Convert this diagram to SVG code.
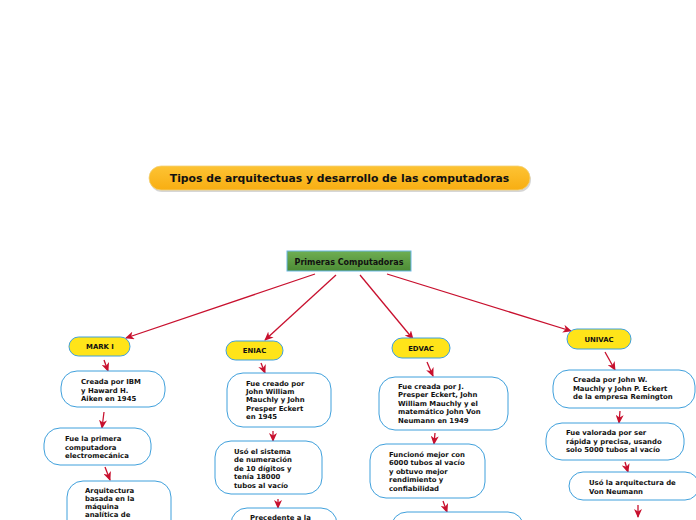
<svg xmlns="http://www.w3.org/2000/svg" width="696" height="520" viewBox="0 0 696 520">
<defs>
<linearGradient id="gTitle" x1="0" y1="0" x2="0" y2="1"><stop offset="0" stop-color="#FDC334"/><stop offset="1" stop-color="#F8AE12"/></linearGradient>
<linearGradient id="gGreen" x1="0" y1="0" x2="0" y2="1"><stop offset="0" stop-color="#6FAE52"/><stop offset="1" stop-color="#4C8B35"/></linearGradient>
<marker id="ah" markerUnits="userSpaceOnUse" markerWidth="9" markerHeight="8" refX="8" refY="4" orient="auto"><path d="M0,0 L9,4 L0,8 L2.5,4 z" fill="#C8102E"/></marker>
<style>
.t{font-family:"DejaVu Sans","Verdana",sans-serif;font-weight:bold;fill:#111}
.s{font-size:6.9px}
.c{stroke:#C8102E;stroke-width:1.3;fill:none;marker-end:url(#ah)}
.y{fill:#FFE419;stroke:#3FA0DC;stroke-width:1}
.w{fill:#fff;stroke:#3FA0DC;stroke-width:1}
</style>
</defs>
<rect width="696" height="520" fill="#fff"/>
<g id="title">
<rect x="150" y="168" width="381" height="24" rx="12" fill="#bbb" opacity="0.6"/>
<rect x="149" y="166" width="381" height="24" rx="12" fill="url(#gTitle)" stroke="#F3D27A" stroke-width="0.8"/>
<text class="t" x="339.5" y="182" text-anchor="middle" font-size="10.8">Tipos de arquitectuas y desarrollo de las computadoras</text>
</g>
<g id="primeras">
<rect x="287" y="251" width="124" height="20" fill="url(#gGreen)" stroke="#6BB8E6" stroke-width="1"/>
<text class="t" x="349" y="265" text-anchor="middle" font-size="8">Primeras Computadoras</text>
</g>
<g id="connectors">
<line class="c" x1="315" y1="274" x2="126" y2="338"/>
<line class="c" x1="336" y1="275" x2="265" y2="340"/>
<line class="c" x1="360" y1="275" x2="413" y2="339"/>
<line class="c" x1="387" y1="274" x2="571" y2="331"/>
<line class="c" x1="104" y1="360" x2="108" y2="371"/>
<line class="c" x1="104" y1="412" x2="102" y2="428"/>
<line class="c" x1="105" y1="467" x2="110" y2="480"/>
<line class="c" x1="261" y1="363" x2="265" y2="373"/>
<line class="c" x1="273" y1="431" x2="273" y2="441"/>
<line class="c" x1="278" y1="499" x2="278" y2="508"/>
<line class="c" x1="427" y1="362" x2="433" y2="376"/>
<line class="c" x1="435" y1="433" x2="434" y2="444"/>
<line class="c" x1="443" y1="501" x2="447" y2="512"/>
<line class="c" x1="605" y1="352" x2="615" y2="370"/>
<line class="c" x1="620" y1="411" x2="619" y2="423"/>
<line class="c" x1="625" y1="462" x2="628" y2="472"/>
<line class="c" x1="638" y1="505" x2="638" y2="517"/>
</g>
<g id="mark1">
<rect class="y" x="69" y="337" width="61" height="19" rx="9.5"/>
<text class="t s" x="100" y="349" text-anchor="middle">MARK I</text>
</g>
<g id="mark1-a">
<rect class="w" x="61" y="371" width="104" height="36" rx="16"/>
<text class="t s"><tspan x="81" y="384">Creada por IBM</tspan><tspan x="81" y="392.5">y Haward H.</tspan><tspan x="81" y="401">Aiken en 1945</tspan></text>
</g>
<g id="mark1-b">
<rect class="w" x="44" y="428" width="107" height="37" rx="16"/>
<text class="t s"><tspan x="65" y="441">Fue la primera</tspan><tspan x="65" y="449.5">computadora</tspan><tspan x="65" y="458">electromecánica</tspan></text>
</g>
<g id="mark1-c">
<rect class="w" x="67" y="481" width="104" height="60" rx="16"/>
<text class="t s"><tspan x="85" y="493">Arquitectura</tspan><tspan x="85" y="501">basada en la</tspan><tspan x="85" y="509">máquina</tspan><tspan x="85" y="517">analítica de</tspan></text>
</g>
<g id="eniac">
<rect class="y" x="226" y="341" width="57" height="19" rx="9.5"/>
<text class="t s" x="254.5" y="353" text-anchor="middle">ENIAC</text>
</g>
<g id="eniac-a">
<rect class="w" x="227" y="373" width="104" height="54" rx="16"/>
<text class="t s"><tspan x="246" y="385.5">Fue creado por</tspan><tspan x="246" y="394">John William</tspan><tspan x="246" y="402">Mauchly y John</tspan><tspan x="246" y="410.5">Presper Eckert</tspan><tspan x="246" y="419">en 1945</tspan></text>
</g>
<g id="eniac-b">
<rect class="w" x="215" y="441" width="107" height="53" rx="16"/>
<text class="t s"><tspan x="234" y="453.5">Usó el sistema</tspan><tspan x="234" y="462">de numeración</tspan><tspan x="234" y="470.5">de 10 dígitos y</tspan><tspan x="234" y="479">tenía 18000</tspan><tspan x="234" y="487.5">tubos al vacío</tspan></text>
</g>
<g id="eniac-c">
<rect class="w" x="231" y="508" width="106" height="40" rx="16"/>
<text class="t s"><tspan x="250" y="519.5">Precedente a la</tspan></text>
</g>
<g id="edvac">
<rect class="y" x="392" y="338" width="58" height="20" rx="10"/>
<text class="t s" x="421" y="350.5" text-anchor="middle">EDVAC</text>
</g>
<g id="edvac-a">
<rect class="w" x="379" y="377" width="129" height="53" rx="16"/>
<text class="t s"><tspan x="398" y="388.5">Fue creada por J.</tspan><tspan x="398" y="397">Presper Eckert, John</tspan><tspan x="398" y="405.5">William Mauchly y el</tspan><tspan x="398" y="414">matemático John Von</tspan><tspan x="398" y="422.5">Neumann en 1949</tspan></text>
</g>
<g id="edvac-b">
<rect class="w" x="370" y="444" width="115" height="54" rx="16"/>
<text class="t s"><tspan x="389" y="456.5">Funcionó mejor con</tspan><tspan x="389" y="465">6000 tubos al vacío</tspan><tspan x="389" y="473.5">y obtuvo mejor</tspan><tspan x="389" y="482">rendimiento y</tspan><tspan x="389" y="490.5">confiabilidad</tspan></text>
</g>
<g id="edvac-c">
<rect class="w" x="391" y="512" width="133" height="40" rx="16"/>
</g>
<g id="univac">
<rect class="y" x="567" y="329" width="64" height="20" rx="10"/>
<text class="t s" x="599" y="341.5" text-anchor="middle">UNIVAC</text>
</g>
<g id="univac-a">
<rect class="w" x="553" y="370" width="142" height="38" rx="16"/>
<text class="t s"><tspan x="573" y="382">Creada por John W.</tspan><tspan x="573" y="390.5">Mauchly y John P. Eckert</tspan><tspan x="573" y="399">de la empresa Remington</tspan></text>
</g>
<g id="univac-b">
<rect class="w" x="546" y="423" width="138" height="37" rx="16"/>
<text class="t s"><tspan x="566" y="435">Fue valorada por ser</tspan><tspan x="566" y="443.5">rápida y precisa, usando</tspan><tspan x="566" y="452">solo 5000 tubos al vacío</tspan></text>
</g>
<g id="univac-c">
<rect class="w" x="569" y="472" width="130" height="28" rx="14"/>
<text class="t s"><tspan x="589" y="485">Usó la arquitectura de</tspan><tspan x="589" y="493.5">Von Neumann</tspan></text>
</g>
</svg>
